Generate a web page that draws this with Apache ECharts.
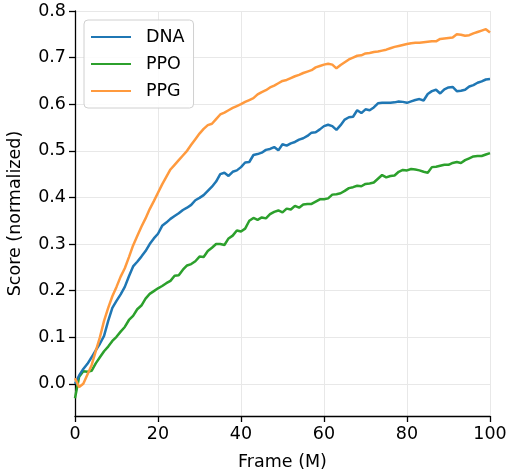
<!DOCTYPE html>
<html>
<head>
<meta charset="utf-8">
<script src="https://cdn.jsdelivr.net/npm/echarts@6/dist/echarts.min.js"></script>
<style>
html,body{margin:0;padding:0;background:#fff;}
#chart{width:508px;height:471px;}
</style>
</head>
<body>
<div id="chart"></div>
<script>
const frames = Array.from({length: 101}, (_, i) => i);
const xTicks = [0, 20, 40, 60, 80, 100];
const yTicks = [0.0, 0.1, 0.2, 0.3, 0.4, 0.5, 0.6, 0.7, 0.8];
const seriesNames = ['DNA', 'PPO', 'PPG'];

const dna = [0.000,0.018,0.032,0.043,0.057,0.072,0.086,0.103,0.135,0.163,
0.178,0.192,0.208,0.231,0.252,0.262,0.273,0.285,0.300,0.312,
0.322,0.339,0.346,0.354,0.360,0.366,0.373,0.378,0.384,0.394,
0.399,0.405,0.414,0.423,0.434,0.450,0.453,0.446,0.455,0.458,
0.465,0.475,0.476,0.491,0.493,0.496,0.502,0.504,0.508,0.501,
0.514,0.511,0.516,0.519,0.524,0.527,0.532,0.539,0.540,0.546,
0.553,0.556,0.553,0.545,0.555,0.567,0.572,0.573,0.587,0.581,
0.589,0.587,0.593,0.602,0.603,0.603,0.603,0.604,0.606,0.605,
0.603,0.606,0.609,0.611,0.608,0.622,0.628,0.631,0.623,0.632,
0.636,0.637,0.628,0.629,0.631,0.638,0.641,0.646,0.649,0.653,0.654];

const ppo = [-0.031,0.015,0.027,0.026,0.028,0.044,0.057,0.070,0.080,0.092,
0.101,0.112,0.122,0.137,0.146,0.160,0.168,0.183,0.193,0.199,
0.205,0.210,0.216,0.221,0.232,0.233,0.245,0.254,0.257,0.263,
0.273,0.272,0.285,0.292,0.300,0.300,0.298,0.312,0.318,0.329,
0.327,0.333,0.350,0.356,0.352,0.357,0.355,0.364,0.369,0.372,
0.368,0.376,0.374,0.382,0.378,0.385,0.386,0.386,0.391,0.396,
0.396,0.398,0.406,0.407,0.409,0.414,0.420,0.422,0.425,0.424,
0.429,0.430,0.432,0.440,0.448,0.443,0.446,0.447,0.455,0.459,
0.458,0.461,0.460,0.458,0.455,0.453,0.465,0.466,0.468,0.470,
0.470,0.474,0.476,0.474,0.480,0.484,0.488,0.489,0.489,0.492,0.495];

const ppg = [0.012,-0.007,0.000,0.020,0.040,0.070,0.100,0.135,0.163,0.188,
0.208,0.230,0.248,0.272,0.297,0.317,0.337,0.355,0.375,0.392,
0.410,0.428,0.444,0.460,0.470,0.480,0.490,0.500,0.513,0.525,
0.537,0.547,0.555,0.558,0.568,0.578,0.582,0.587,0.592,0.596,
0.600,0.605,0.609,0.613,0.621,0.626,0.630,0.636,0.640,0.645,
0.650,0.652,0.656,0.660,0.663,0.667,0.670,0.673,0.679,0.682,
0.685,0.687,0.685,0.677,0.684,0.690,0.696,0.700,0.704,0.705,
0.709,0.710,0.712,0.713,0.715,0.717,0.720,0.723,0.725,0.727,
0.729,0.731,0.732,0.732,0.733,0.734,0.735,0.735,0.740,0.741,
0.742,0.743,0.750,0.749,0.747,0.748,0.752,0.755,0.758,0.761,0.754];

const colors = ['#1f77b4', '#2ca02c', '#ff9a3e'];
const FONT = 'DejaVu Sans';
const FS = 17.5;

function pairs(ys) { return frames.map((x, i) => [x, ys[i]]); }

const chart = echarts.init(document.getElementById('chart'), null, {renderer: 'canvas'});
chart.setOption({
  animation: false,
  backgroundColor: '#ffffff',
  textStyle: {fontFamily: FONT},
  grid: {left: 75, right: 18, top: 11, bottom: 55, containLabel: false, outerBoundsMode: 'none'},
  legend: {
    orient: 'vertical',
    left: 84, top: 20,
    data: seriesNames,
    itemWidth: 40, itemHeight: 10,
    itemGap: 9,
    padding: [8, 9, 8, 6],
    borderColor: '#d0d0d0', borderWidth: 1, borderRadius: 4,
    backgroundColor: 'rgba(255,255,255,0.85)',
    textStyle: {fontFamily: FONT, fontSize: FS, color: '#000', padding: [0, 0, 0, 10]},
    itemStyle: {opacity: 0}
  },
  xAxis: {
    type: 'value', min: 0, max: 100, interval: 20,
    name: 'Frame (M)', nameLocation: 'middle', nameGap: 37,
    nameTextStyle: {fontFamily: FONT, fontSize: FS, color: '#000'},
    axisLine: {show: true, onZero: false, lineStyle: {color: '#000', width: 1.3}},
    axisTick: {show: true, length: 6, lineStyle: {color: '#000', width: 1.3}},
    axisLabel: {fontFamily: FONT, fontSize: FS, color: '#000', margin: 9,
      formatter: v => xTicks.includes(v) ? String(v) : ''},
    splitLine: {show: true, lineStyle: {color: '#e8e8e8', width: 1}}
  },
  yAxis: {
    type: 'value', min: -0.069, max: 0.8, interval: 0.1,
    name: 'Score (normalized)', nameLocation: 'middle', nameGap: 51,
    nameTextStyle: {fontFamily: FONT, fontSize: FS, color: '#000'},
    axisLine: {show: true, lineStyle: {color: '#000', width: 1.3}},
    axisTick: {show: true, length: 6, lineStyle: {color: '#000', width: 1.3},
      customValues: yTicks},
    axisLabel: {fontFamily: FONT, fontSize: FS, color: '#000', margin: 9,
      customValues: yTicks,
      formatter: v => v.toFixed(1)},
    splitLine: {show: true, lineStyle: {color: '#e8e8e8', width: 1}}
  },
  series: [
    {name: 'DNA', type: 'line', data: pairs(dna), showSymbol: false, symbol: 'none',
      lineStyle: {color: colors[0], width: 2.5}, itemStyle: {color: colors[0]}, z: 3},
    {name: 'PPO', type: 'line', data: pairs(ppo), showSymbol: false, symbol: 'none',
      lineStyle: {color: colors[1], width: 2.5}, itemStyle: {color: colors[1]}, z: 2},
    {name: 'PPG', type: 'line', data: pairs(ppg), showSymbol: false, symbol: 'none',
      lineStyle: {color: colors[2], width: 2.5}, itemStyle: {color: colors[2]}, z: 4}
  ]
});
</script>
</body>
</html>
